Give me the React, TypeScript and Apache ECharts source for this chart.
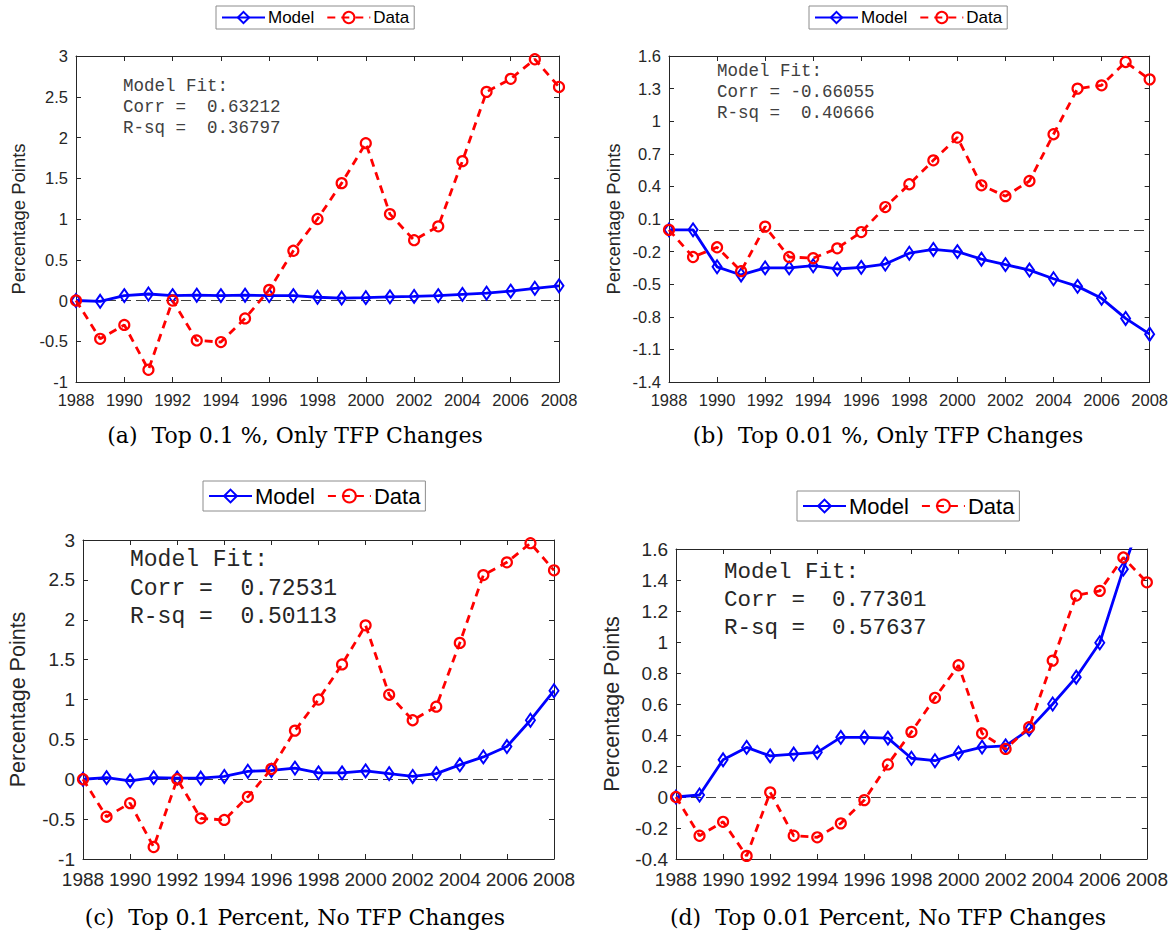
import React, { useEffect, useRef } from 'react';
import * as echarts from 'echarts';

// ---------- data ----------
const years = [1988, 1989, 1990, 1991, 1992, 1993, 1994, 1995, 1996, 1997, 1998, 1999, 2000, 2001, 2002, 2003, 2004, 2005, 2006, 2007, 2008];
const xTicks = [1988, 1990, 1992, 1994, 1996, 1998, 2000, 2002, 2004, 2006, 2008];

// Data series (observed change in income share)
const dataTop01 = [0, -0.47, -0.30, -0.85, 0.00, -0.49, -0.51, -0.22, 0.13, 0.61, 1.00, 1.44, 1.93, 1.06, 0.74, 0.91, 1.71, 2.56, 2.72, 2.96, 2.62];
const dataTop001 = [0, -0.25, -0.16, -0.38, 0.03, -0.25, -0.26, -0.17, -0.02, 0.21, 0.42, 0.64, 0.85, 0.41, 0.31, 0.45, 0.88, 1.30, 1.33, 1.545, 1.385];

// Model series
const modelA = [0, -0.01, 0.06, 0.08, 0.06, 0.065, 0.06, 0.065, 0.06, 0.06, 0.04, 0.03, 0.035, 0.045, 0.05, 0.06, 0.075, 0.09, 0.115, 0.15, 0.18];
const modelB = [0, 0, -0.34, -0.415, -0.35, -0.35, -0.33, -0.36, -0.345, -0.315, -0.215, -0.18, -0.20, -0.27, -0.32, -0.37, -0.45, -0.52, -0.63, -0.815, -0.96];
const modelC = [0, 0.02, -0.02, 0.02, 0.015, 0.015, 0.035, 0.10, 0.11, 0.14, 0.08, 0.08, 0.105, 0.07, 0.035, 0.07, 0.18, 0.28, 0.41, 0.74, 1.11];
const modelD = [0, 0.013, 0.24, 0.32, 0.265, 0.277, 0.288, 0.385, 0.385, 0.38, 0.25, 0.234, 0.284, 0.322, 0.33, 0.436, 0.60, 0.773, 0.995, 1.47, 1.90];

// y tick labels
const yTicksTop01 = [-1, -0.5, 0, 0.5, 1, 1.5, 2, 2.5, 3];
const yTicksB = [-1.4, -1.1, -0.8, -0.5, -0.2, 0.1, 0.4, 0.7, 1, 1.3, 1.6];
const yTicksD = [-0.4, -0.2, 0, 0.2, 0.4, 0.6, 0.8, 1, 1.2, 1.4, 1.6];

const captions = [
  '(a)  Top 0.1 %, Only TFP Changes',
  '(b)  Top 0.01 %, Only TFP Changes',
  '(c)  Top 0.1 Percent, No TFP Changes',
  '(d)  Top 0.01 Percent, No TFP Changes',
];
const fitTexts = [
  ['Model Fit:', 'Corr =  0.63212', 'R-sq =  0.36797'],
  ['Model Fit:', 'Corr = -0.66055', 'R-sq =  0.40666'],
  ['Model Fit:', 'Corr =  0.72531', 'R-sq =  0.50113'],
  ['Model Fit:', 'Corr =  0.77301', 'R-sq =  0.57637'],
];
const seriesNames = ['Model', 'Data'];
const yAxisName = 'Percentage Points';

// ---------- layout (positions / styles) ----------
const SANS = '"Liberation Sans", Arial, Helvetica, sans-serif';
const MONO = '"Liberation Mono", "Courier New", monospace';
const SERIF = '"DejaVu Serif", Georgia, serif';
const BLUE = '#0000ff';
const RED = '#ff0000';
const AXIS = '#262626';

const panels = [
  { model: modelA, data: dataTop01, yTicks: yTicksTop01, grid: { left: 76, top: 56, width: 483, height: 326 },
    legend: { left: 216, top: 6 }, lgFont: 17, tickFont: 16.5, xMargin: 9, nameFont: 18.5, nameGap: 48,
    fit: { x: 123, y: 75, size: 17.5, lh: 21, color: '#404040' }, cap: { x: 295, y: 435 } },
  { model: modelB, data: dataTop001, yTicks: yTicksB, grid: { left: 669, top: 56, width: 482, height: 326 },
    legend: { left: 809, top: 6 }, lgFont: 17, tickFont: 16.5, xMargin: 9, nameFont: 18.5, nameGap: 46,
    fit: { x: 717, y: 61, size: 17.5, lh: 20.7, color: '#404040' }, cap: { x: 888, y: 435 } },
  { model: modelC, data: dataTop01, yTicks: yTicksTop01, grid: { left: 83, top: 540, width: 471, height: 319 },
    legend: { left: 203, top: 481 }, lgFont: 22, tickFont: 19, xMargin: 11, nameFont: 21.5, nameGap: 54,
    fit: { x: 130, y: 546, size: 23, lh: 28.5, color: '#262626' }, cap: { x: 295, y: 917 } },
  { model: modelD, data: dataTop001, yTicks: yTicksD, grid: { left: 676, top: 549, width: 471, height: 310 },
    legend: { left: 797, top: 491 }, lgFont: 22, tickFont: 19, xMargin: 11, nameFont: 21.5, nameGap: 53,
    fit: { x: 724, y: 558, size: 22.5, lh: 28, color: '#262626' }, cap: { x: 888, y: 917 } },
];

function fmt(v: number) {
  return String(parseFloat(v.toFixed(2)));
}

function buildOption() {
  const grid: any[] = [];
  const xAxis: any[] = [];
  const yAxis: any[] = [];
  const series: any[] = [];
  const legend: any[] = [];
  const graphic: any[] = [];

  panels.forEach((p, i) => {
    grid.push({ ...p.grid, show: false, containLabel: false });
    const axisLine = { show: true, onZero: false, lineStyle: { color: AXIS, width: 1 } };
    const axisTick = { show: true, inside: true, length: 5, lineStyle: { color: AXIS, width: 1 } };
    const xBase = {
      gridIndex: i, type: 'value', min: xTicks[0], max: xTicks[xTicks.length - 1],
      interval: xTicks[1] - xTicks[0], axisLine, axisTick, splitLine: { show: false },
    };
    xAxis.push({ ...xBase, position: 'bottom',
      axisLabel: { show: true, fontSize: p.tickFont, fontFamily: SANS, color: AXIS, margin: p.xMargin, formatter: (v: number) => String(Math.round(v)) } });
    xAxis.push({ ...xBase, position: 'top', axisLabel: { show: false } });
    const yt = p.yTicks;
    const yBase = {
      gridIndex: i, type: 'value', min: yt[0], max: yt[yt.length - 1],
      interval: parseFloat((yt[1] - yt[0]).toFixed(3)), axisLine, axisTick, splitLine: { show: false },
    };
    yAxis.push({ ...yBase, position: 'left',
      name: yAxisName, nameLocation: 'middle', nameGap: p.nameGap,
      nameTextStyle: { fontSize: p.nameFont, fontFamily: SANS, color: AXIS },
      axisLabel: { show: true, fontSize: p.tickFont, fontFamily: SANS, color: AXIS, margin: 8, formatter: (v: number) => fmt(v) } });
    yAxis.push({ ...yBase, position: 'right', axisLabel: { show: false } });

    series.push({
      type: 'line', name: seriesNames[0], xAxisIndex: 2 * i, yAxisIndex: 2 * i,
      data: years.map((y, k) => [y, p.model[k]]),
      color: BLUE, symbol: 'diamond', symbolSize: [9, 13], showAllSymbol: true, clip: true,
      lineStyle: { color: BLUE, width: 2.8 },
      itemStyle: { color: 'rgba(255,255,255,0)', borderColor: BLUE, borderWidth: 2 },
      z: 3,
    });
    series.push({
      type: 'line', name: seriesNames[1], xAxisIndex: 2 * i, yAxisIndex: 2 * i,
      data: years.map((y, k) => [y, p.data[k]]),
      color: RED, symbol: 'circle', symbolSize: 10, showAllSymbol: true, clip: true,
      lineStyle: { color: RED, width: 2.8, type: [8, 6] },
      itemStyle: { color: 'rgba(255,255,255,0)', borderColor: RED, borderWidth: 2.2 },
      z: 4,
      markLine: {
        silent: true, symbol: ['none', 'none'], label: { show: false },
        lineStyle: { color: '#404040', width: 1.1, type: [10, 5] },
        data: [{ yAxis: 0 }], z: 2,
      },
    });

    legend.push({
      data: seriesNames, left: p.legend.left, top: p.legend.top, orient: 'horizontal',
      itemWidth: 43, itemHeight: p.lgFont === 17 ? 14 : 16, itemGap: 12,
      padding: p.lgFont === 17 ? [3, 5, 3, 5] : [4, 5, 4, 5],
      backgroundColor: '#ffffff', borderColor: '#8c8c8c', borderWidth: 1, borderRadius: 0,
      textStyle: { fontSize: p.lgFont, fontFamily: SANS, color: '#000', padding: [0, 0, 0, -2] },
      selectedMode: false,
    });

    graphic.push({
      type: 'text', x: p.fit.x, y: p.fit.y, silent: true, z: 10,
      style: { text: fitTexts[i].join('\n'), fontSize: p.fit.size, fontFamily: MONO, fill: p.fit.color,
        lineHeight: p.fit.lh, align: 'left', verticalAlign: 'top' },
    });
    graphic.push({
      type: 'text', x: p.cap.x, y: p.cap.y, silent: true,
      style: { text: captions[i], fontSize: 22, fontFamily: SERIF, fill: '#000', align: 'center', verticalAlign: 'middle' },
    });
  });

  return { animation: false, backgroundColor: '#ffffff', grid, xAxis, yAxis, series, legend, graphic };
}

export default function App() {
  const ref = useRef<HTMLDivElement>(null);
  useEffect(() => {
    if (!ref.current) return;
    const chart = echarts.init(ref.current, null, { renderer: 'svg' });
    chart.setOption(buildOption() as any);
    return () => chart.dispose();
  }, []);
  return <div ref={ref} style={{ position: 'absolute', left: 0, top: 0, width: 1171, height: 934, background: '#fff' }} />;
}
